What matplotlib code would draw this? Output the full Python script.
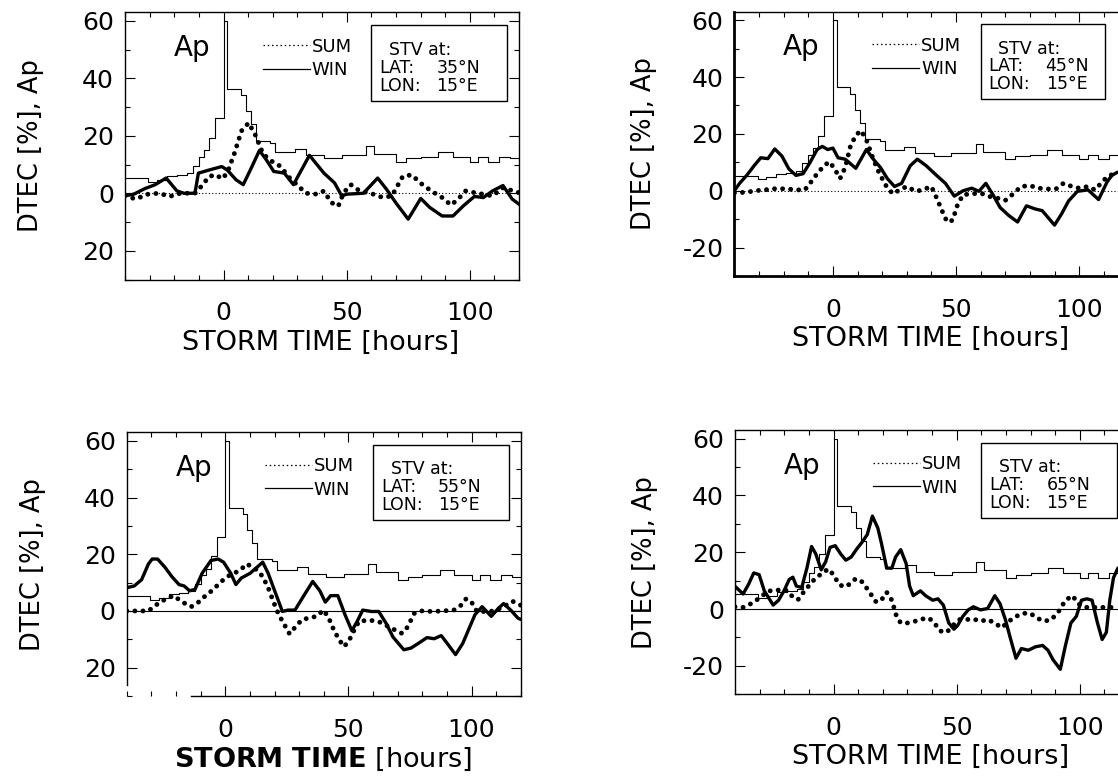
import numpy as np
import matplotlib
matplotlib.use("Agg")
import matplotlib.pyplot as plt
from matplotlib.lines import Line2D
from matplotlib.patches import Rectangle
from matplotlib.ticker import MultipleLocator, FixedLocator, FuncFormatter

plt.rcParams['font.family'] = ['DejaVu Sans']
plt.rcParams['mathtext.fontset'] = 'dejavusans'

# ---------------------------------------------------------------------------
# Ap index (step values, hours relative to storm onset) - common to all panels
ap_hours = [-40, -30.5, -27, -23, -19, -15, -12.5, -10, -8, -6, -3.5, 0, 1.5, 7, 9,
            11, 13, 19, 21, 29, 33.5, 41, 48, 58, 61, 70, 74, 80, 87, 93, 100, 103.5,
            107.5, 112, 116.5, 120]
ap_values = [5.3, 4.0, 4.7, 5.9, 6.4, 7.0, 9.6, 12.7, 14.9, 19.4, 26.2, 60.0, 36.4, 34.1, 28.5,
             24.0, 18.3, 17.5, 14.4, 15.5, 13.2, 12.1, 13.2, 16.6, 13.8, 11.0, 12.1, 12.7, 14.4, 12.7,
             11.0, 12.7, 11.0, 12.7, 12.1, 12.1]

# DTEC [%] storm-time variations, (hour, value) pairs
# 35N 15E
win_35 = [(-40, -0.9), (-36.4, -0.3), (-32, 1.6), (-27.7, 3.0), (-23.3, 5.3), (-18.9, 0.8),
          (-16, 0), (-11.6, 0), (-10.2, 7.0), (-5.8, 8.1), (-0.7, 9.3), (1.5, 8.1), (5.1, 4.7),
          (8.0, 3.0), (10.9, 8.1), (14.6, 14.9), (17.5, 11.5), (20.4, 7.6), (24.7, 7.0),
          (28.4, 3.0), (34.9, 13.2), (40.8, 7.0), (45.1, 3.6), (48, -0.9), (50.2, -0.3),
          (56.8, 0), (62.6, 5.3), (66.2, 1.4), (69.9, -3.2), (75.0, -9.0), (80.1, -1.8),
          (83.7, -4.9), (88.8, -7.9), (93.2, -7.9), (97.5, -4.3), (101.9, -1.1), (105.5, -1.5),
          (109.2, 0.8), (113.5, 2.7), (117.2, -2.0), (120, -3.8)]
sum_35 = [(-40, -0.9), (-35.7, -2.0), (-30.6, -0.3), (-26.2, 0), (-21.8, -1.1), (-17.5, 0),
          (-11.6, 0), (-8.7, 2.7), (-5.8, 5.9), (-2.9, 6.4), (-0.7, 5.0), (1.5, 7.0), (4.4, 13.8),
          (7.3, 21.7), (10.2, 24.5), (13.1, 20.0), (16, 13.8), (18.9, 11.5), (23.3, 9.3),
          (26.2, 5.9), (29.8, 3.0), (33.5, 0), (37.8, -0.3), (40.8, 0.8), (43.7, -3.2),
          (46.6, -4.5), (48.8, 0.2), (51.7, 3.0), (55.3, 0.8), (59.7, 0), (64.8, -1.5),
          (68.4, -0.9), (72.8, 5.9), (76.4, 6.4), (80.8, 3.0), (84.4, 0.8), (88.8, -1.5),
          (92.4, -4.1), (95.3, -2.0), (98.3, 0.8), (103.3, 0), (109.2, -0.9), (113.5, 1.9),
          (120, 0.2)]

# 45N 15E
win_45 = [(-40, 0), (-37.9, 2.6), (-35, 5.4), (-32, 8.8), (-29.3, 11.6), (-26.4, 11.3),
          (-23.6, 14.7), (-20.7, 12.2), (-17.9, 7.7), (-15, 5.4), (-12.1, 6.0), (-9.3, 9.9),
          (-6.4, 14.5), (-4.3, 15.6), (-2.1, 14.5), (0, 15.0), (2.1, 11.6), (5, 11.1), (9.3, 7.9),
          (13.6, 14.5), (16.4, 11.1), (19.3, 8.2), (22.1, 4.3), (25, 1.5), (27.9, 2.6),
          (31.4, 8.8), (34.3, 11.1), (37.9, 8.8), (42.1, 5.4), (45.7, 2.6), (49.3, -1.9),
          (52.9, 0), (56.4, 0.9), (59.3, -0.2), (62.1, 2.6), (65, -1.4), (67.9, -5.9),
          (71.4, -8.7), (75, -11.0), (78.6, -5.3), (82.1, -6.4), (85, -7.0), (90, -12.1),
          (92.9, -8.1), (95.7, -3.6), (99.3, -0.2), (103.6, 0.3), (107.9, -3.1), (111.4, 3.2),
          (113.3, 5.4), (115.5, 6.5)]
sum_45 = [(-40, -0.8), (-35, -0.5), (-31.4, 0), (-27.9, 0.3), (-23.6, 0.7), (-19.3, 0.7),
          (-15, 0.3), (-11.4, 0.3), (-9.3, 2.6), (-6.4, 6.0), (-3.6, 8.8), (-1.4, 10.2),
          (0.7, 7.7), (2.9, 4.3), (5, 8.2), (7.1, 15.6), (9.3, 19.5), (11.4, 21.2), (13.6, 17.9),
          (16.4, 11.1), (18.6, 6.6), (21.4, 2.0), (24.3, -1.1), (27.1, 0.3), (30, 1.5),
          (33.6, -0.2), (36.4, 0.3), (40, 1.5), (42.1, -2.5), (44.3, -7.0), (46.4, -11.0),
          (48.6, -10.4), (50.7, -4.7), (52.9, -1.4), (56.4, -1.1), (60, -0.8), (62.9, -1.9),
          (66.4, -2.5), (70, -3.4), (73.6, -0.8), (76.4, 1.5), (80, 1.8), (83.6, 0.9),
          (87.1, 0.6), (90.7, 0.7), (93.6, 2.6), (97.1, 1.5), (100, 0.9), (103.6, 1.5),
          (106.4, 0.3), (110, 3.7), (112.1, 5.4), (115.5, 6.0)]

# 55N 15E
win_55 = [(-40, 8.2), (-37, 8.8), (-34, 11.0), (-31.2, 16.6), (-29.7, 18.3), (-27.5, 18.3),
          (-24.6, 15.5), (-21.7, 12.1), (-18.8, 9.3), (-16.7, 8.8), (-14.5, 7.1), (-12.3, 7.6),
          (-9.4, 13.3), (-5.8, 17.8), (-2.9, 18.3), (-0.7, 17.2), (2.2, 13.3), (4.3, 9.3),
          (6.5, 11.6), (10.1, 13.3), (13.0, 15.5), (15.2, 17.2), (17.4, 13.3), (20.3, 6.5),
          (23.2, -0.2), (25.4, 0.3), (28.3, 0.3), (31.9, 5.4), (35.5, 10.4), (38.4, 7.1),
          (40.6, 3.1), (42.8, 5.4), (45.7, 5.4), (48.6, -1.3), (51.4, -7.0), (53.6, -3.6),
          (55.8, 0.3), (59.4, -0.2), (62.3, -0.2), (65.2, -4.2), (68.1, -9.2), (72.5, -13.7),
          (75.4, -13.1), (78.3, -11.5), (81.9, -9.4), (84.8, -9.8), (87.7, -8.7), (90.6, -12.0),
          (93.5, -15.4), (96.4, -11.5), (98.6, -7.0), (101.4, -1.3), (104.3, 1.5), (108, -1.9),
          (110.9, 0.9), (113, 2.6), (115.9, 0.3), (118.8, -2.5), (120, -3.0)]
sum_55 = [(-40, 0), (-34.8, 0), (-31.2, 0), (-28.3, 2.0), (-24.6, 4.0), (-21, 5.4), (-17.4, 3.1),
          (-13.8, 1.5), (-10.9, 3.1), (-8, 5.4), (-5.1, 7.4), (-2.2, 9.9), (0.7, 12.1), (3.6, 13.3),
          (6.1, 14.4), (8.7, 16.6), (10.9, 15.5), (13, 14.4), (15.2, 12.1), (17.4, 8.2),
          (19.6, 3.1), (21.7, -1.3), (23.9, -4.7), (26.1, -8.1), (28.3, -5.8), (31.2, -3.0),
          (34.1, -2.5), (37, -1.9), (39.9, 0.3), (42, -2.5), (44.2, -7.0), (46.4, -10.3),
          (48.1, -12.6), (50, -10.9), (52.2, -7.0), (54.3, -3.6), (57.2, -3.4), (60.1, -3.4),
          (63.8, -4.2), (66.7, -5.8), (69.6, -7.0), (71.7, -7.9), (73.9, -5.8), (76.8, -0.8),
          (79.7, 0), (84.1, -0.2), (88.4, 0), (92.8, 0.3), (95.7, 2.0), (97.8, 4.3), (100, 3.1),
          (102.2, -0.2), (105.8, -0.2), (109.4, 0), (113, 1.5), (116.7, 3.4), (120, 2.0)]

# 65N 15E
win_65 = [(-40, 8.0), (-36.7, 5.3), (-34.5, 8.7), (-32.4, 12.7), (-30.2, 12.1), (-28.1, 6.4),
          (-24.5, 1.4), (-22.3, 3.1), (-20.1, 6.4), (-18, 10.4), (-16.5, 11.2), (-15.1, 8.1),
          (-12.9, 7.6), (-10.8, 14.4), (-8.9, 22.0), (-7.2, 19.4), (-5, 13.8), (-3.2, 16.6),
          (-1.4, 21.7), (0.7, 22.3), (2.9, 19.4), (5, 17.2), (7.2, 18.3), (9.4, 21.1),
          (11.5, 23.4), (13.7, 26.2), (15.8, 32.7), (18, 28.5), (19.4, 23.4), (21.6, 14.4),
          (23.7, 14.4), (25.2, 18.3), (27.3, 20.9), (29.5, 16.0), (30.9, 8.1), (32.4, 4.7),
          (35.3, 6.4), (37.4, 4.7), (40.3, 3.1), (42.4, 3.6), (44.6, 1.4), (46.8, -4.9),
          (48.9, -7.1), (50.4, -5.8), (52.5, -2.6), (54.7, -0.3), (56.8, 0.8), (59.7, -0.3),
          (62.6, 0.2), (65.5, 4.7), (67.6, 1.9), (69.8, -3.7), (71.9, -10.5), (74.1, -17.3),
          (76.3, -13.9), (79.1, -14.5), (82, -13.3), (84.9, -12.8), (87.1, -14.5), (89.2, -17.9),
          (92.1, -21.2), (94.2, -12.8), (96.4, -4.9), (98.6, -2.6), (100.7, 3.1), (102.9, 3.6),
          (105, 3.1), (107.2, -4.9), (109.1, -10.7), (110.8, -8.2), (112.2, 3.1), (113.7, 11.0),
          (115.5, 14.4)]
sum_65 = [(-40, 0.8), (-36.7, 0.6), (-34.5, 1.4), (-32.4, 2.5), (-29.5, 4.2), (-26.6, 6.4),
          (-23.7, 6.4), (-20.9, 7.0), (-18.7, 6.4), (-16.5, 4.2), (-14.4, 3.3), (-12.2, 5.9),
          (-10.1, 8.1), (-7.2, 11.0), (-4.3, 12.7), (-2.2, 14.1), (0, 12.1), (2.2, 8.7),
          (4.3, 7.8), (6.5, 8.7), (8.6, 10.4), (10.8, 10.4), (12.9, 8.1), (15.1, 5.3),
          (17.3, 2.5), (19.4, 3.1), (21.6, 5.9), (23.7, 3.1), (25.6, -2.6), (27.3, -4.9),
          (30.2, -4.9), (33.1, -4.3), (36, -3.5), (38.8, -3.2), (41, -4.9), (43.2, -7.7),
          (46, -8.2), (48.2, -6.0), (51.1, -3.7), (54, -3.7), (56.8, -3.5), (59.7, -4.3),
          (62.6, -3.7), (65.5, -4.9), (68.3, -6.6), (71.2, -4.3), (74.1, -2.6), (77, -1.5),
          (79.9, -1.5), (82.7, -3.2), (85.6, -4.3), (88.5, -3.7), (91.4, -0.9), (94.2, 3.1),
          (97.1, 4.7), (99.3, 1.9), (102.2, 0.6), (105, 0.6), (108.6, 0.6), (112.2, 0.6),
          (115.5, 0.6)]

station_lat = ['35°N', '45°N', '55°N', '65°N']
station_lon = '15°E'

# ---------------------------------------------------------------------------
W, H = 1118, 776
fig = plt.figure(figsize=(W / 100, H / 100), dpi=100)
fig.patch.set_facecolor('white')


def add_axes_px(left, top, right, bottom):
    return fig.add_axes([left / W, 1 - bottom / H, (right - left) / W, (bottom - top) / H])


panels = [
    dict(box=(125, 12.2, 519, 279.5), win=win_35, summ=sum_35, lat=station_lat[0],
         zero_ls=(0, (1, 2)), signed=False, box_right=0.97, ylab_x=-0.205, dotted_top=True),
    dict(box=(734.4, 11.7, 1128.4, 276), win=win_45, summ=sum_45, lat=station_lat[1],
         zero_ls=(0, (1, 2)), signed=True, box_right=0.94, ylab_x=-0.196, dotted_top=True),
    dict(box=(126.8, 432.3, 520.8, 696), win=win_55, summ=sum_55, lat=station_lat[2],
         zero_ls='-', signed=False, box_right=0.97, ylab_x=-0.205, dotted_top=False),
    dict(box=(735, 430, 1129, 694.3), win=win_65, summ=sum_65, lat=station_lat[3],
         zero_ls='-', signed=True, box_right=0.97, ylab_x=-0.196, dotted_top=False),
]

for i, p in enumerate(panels):
    l, t, r, b = p['box']
    ax = add_axes_px(l, t, r, b)
    h_px = b - t

    ax.plot(ap_hours, ap_values, drawstyle='steps-post', color='k', lw=0.8)
    ax.axhline(0, color='k', lw=0.8, ls=p['zero_ls'])

    wt, wv = zip(*p['win'])
    ax.plot(wt, wv, color='k', lw=2.4, solid_joinstyle='round', solid_capstyle='round')
    st, sv = zip(*p['summ'])
    ax.plot(st, sv, color='k', lw=3.5, ls=(0, (0.01, 1.65)), dash_capstyle='round')

    ax.set_xlim(-40, 120)
    ax.set_ylim(-30, 63)

    ax.xaxis.set_major_locator(FixedLocator([0, 50, 100]))
    ax.xaxis.set_minor_locator(MultipleLocator(10))
    ax.yaxis.set_major_locator(MultipleLocator(20))
    ax.yaxis.set_minor_locator(MultipleLocator(10))
    if p['signed']:
        ax.yaxis.set_major_formatter(FuncFormatter(lambda v, pos: f"{int(round(v))}"))
    else:
        ax.yaxis.set_major_formatter(FuncFormatter(lambda v, pos: f"{abs(int(round(v)))}"))

    ax.tick_params(which='both', direction='in', top=True, right=True, width=0.8)
    ax.tick_params(which='major', length=7, labelsize=18)
    ax.tick_params(which='minor', length=3.5)
    ax.tick_params(axis='x', which='major', pad=15.5)
    ax.tick_params(axis='y', which='major', pad=8)

    for s in ax.spines.values():
        s.set_linewidth(1.0)
    if p['dotted_top']:
        ax.spines['top'].set_linestyle((0, (1.5, 1)))
    if i == 1:
        ax.spines['left'].set_linewidth(2.0)
        ax.spines['bottom'].set_linewidth(2.0)
    if i == 2:
        ax.spines['left'].set_bounds(-26, 63)
        ax.spines['bottom'].set_bounds(-14, 120)

    if i == 2:
        ax.set_xlabel(r'$\mathbf{STORM\ TIME}$ [hours]', fontsize=19.5)
    else:
        ax.set_xlabel('STORM TIME [hours]', fontsize=19.5)
    ax.xaxis.set_label_coords(0.497, -50 / h_px)
    ax.set_ylabel('DTEC [%], Ap', fontsize=18.5)
    ax.yaxis.set_label_coords(p['ylab_x'], 0.5)

    # Ap tag
    ax.text(0.17, 0.865, 'Ap', transform=ax.transAxes, fontsize=20, ha='center', va='center')

    # season key
    handles = [Line2D([], [], color='k', lw=0.9, ls=(0, (1.2, 2.2))),
               Line2D([], [], color='k', lw=0.9)]
    ax.legend(handles, ['SUM', 'WIN'], loc='upper left', bbox_to_anchor=(0.35, 0.905),
              frameon=False, fontsize=13, handlelength=2.6, handletextpad=0.1,
              borderpad=0, borderaxespad=0, labelspacing=0.3)

    # station box
    x0, y0, y1 = 0.625, 0.668, 0.952
    ax.add_patch(Rectangle((x0, y0), p['box_right'] - x0, y1 - y0, transform=ax.transAxes,
                           fill=False, lw=1.0, ec='k'))
    ax.text(0.67, 0.86, 'STV at:', transform=ax.transAxes, fontsize=12.5, va='center')
    ax.text(0.645, 0.793, 'LAT:', transform=ax.transAxes, fontsize=12.5, va='center')
    ax.text(0.79, 0.793, p['lat'], transform=ax.transAxes, fontsize=12.5, va='center')
    ax.text(0.645, 0.725, 'LON:', transform=ax.transAxes, fontsize=12.5, va='center')
    ax.text(0.79, 0.725, station_lon, transform=ax.transAxes, fontsize=12.5, va='center')

fig.savefig('out.png', dpi=100, facecolor='white')
